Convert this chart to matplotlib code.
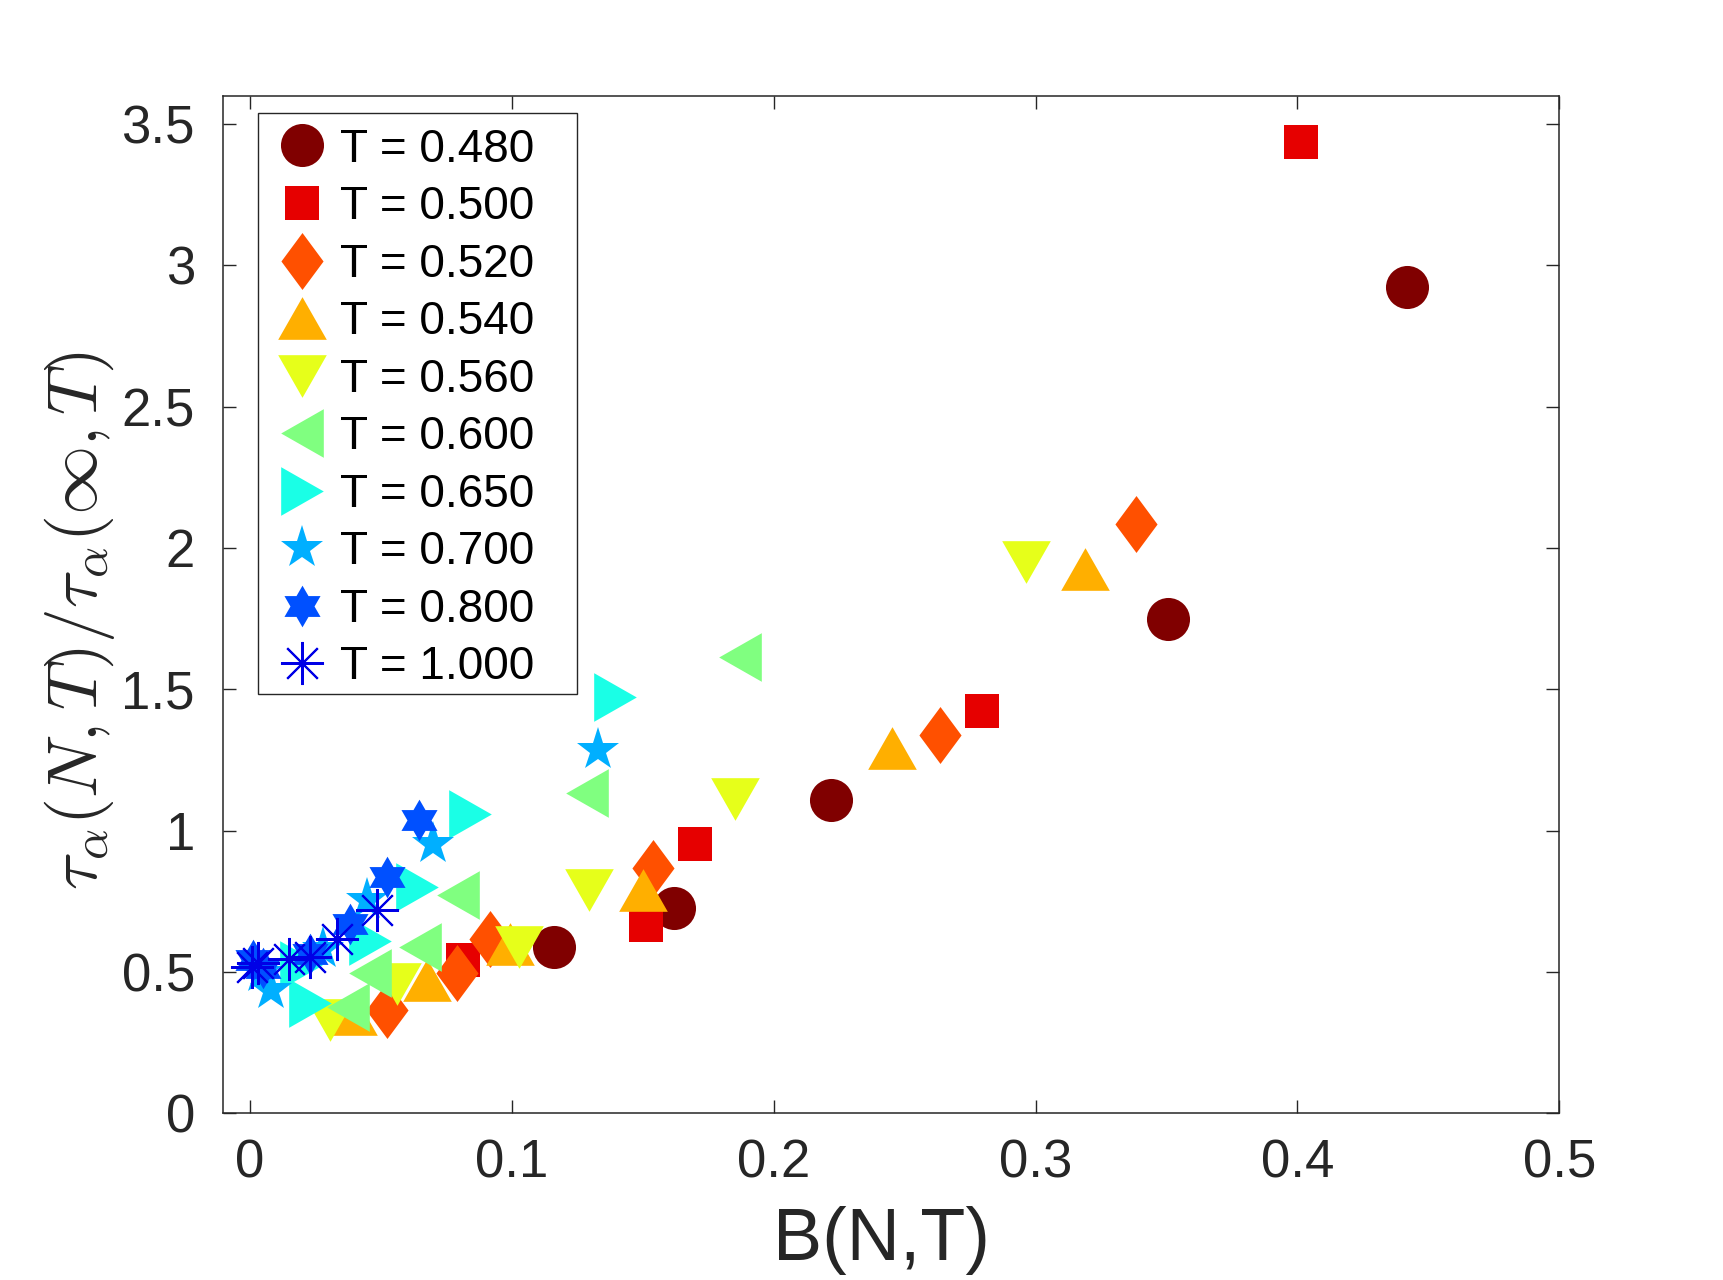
import numpy as np
import matplotlib
matplotlib.use("Agg")
import matplotlib.pyplot as plt
from matplotlib.path import Path
from matplotlib.patches import Rectangle

plt.rcParams['font.family'] = ['Liberation Sans', 'DejaVu Sans']
plt.rcParams['mathtext.fontset'] = 'cm'

# ---------------- data ----------------
labels = ["T = 0.480", "T = 0.500", "T = 0.520", "T = 0.540", "T = 0.560",
          "T = 0.600", "T = 0.650", "T = 0.700", "T = 0.800", "T = 1.000"]

x_480 = [0.1162, 0.1621, 0.2218, 0.3504, 0.4420]
y_480 = [0.589, 0.727, 1.107, 1.748, 2.924]

x_500 = [0.0815, 0.1512, 0.1698, 0.2794, 0.4015]
y_500 = [0.542, 0.665, 0.953, 1.422, 3.437]

x_520 = [0.0522, 0.0790, 0.0917, 0.1541, 0.2635, 0.3383]
y_520 = [0.365, 0.495, 0.618, 0.869, 1.340, 2.085]

x_540 = [0.0395, 0.0675, 0.0994, 0.1500, 0.2450, 0.3189]
y_540 = [0.353, 0.471, 0.600, 0.789, 1.293, 1.926]

x_560 = [0.0306, 0.0560, 0.1029, 0.1293, 0.1853, 0.2963]
y_560 = [0.330, 0.459, 0.589, 0.789, 1.113, 1.950]

x_600 = [0.0376, 0.0459, 0.0650, 0.0796, 0.1289, 0.1872]
y_600 = [0.377, 0.495, 0.589, 0.771, 1.133, 1.613]

x_650 = [0.0229, 0.0195, 0.0460, 0.0637, 0.0840, 0.1395]
y_650 = [0.389, 0.525, 0.610, 0.800, 1.060, 1.472]

x_700 = [0.0082, 0.0043, 0.0280, 0.0446, 0.0700, 0.1329]
y_700 = [0.436, 0.495, 0.580, 0.754, 0.954, 1.284]

x_800 = [0.0013, 0.0050, 0.0229, 0.0382, 0.0522, 0.0647]
y_800 = [0.542, 0.515, 0.565, 0.671, 0.836, 1.036]

x_1000 = [0.0006, 0.0030, 0.0150, 0.0229, 0.0331, 0.0484]
y_1000 = [0.518, 0.530, 0.545, 0.553, 0.618, 0.718]

colors = ['#800000', '#E60000', '#FF5000', '#FFAF00', '#E6FF1A',
          '#80FF80', '#1AFFE6', '#00AFFF', '#0050FF', '#0000E6']

# ---------------- markers ----------------
def poly(verts):
    verts = list(verts) + [verts[0]]
    codes = [Path.MOVETO] + [Path.LINETO] * (len(verts) - 2) + [Path.CLOSEPOLY]
    return Path(verts, codes)

h = 0.877
tri_up = poly([(0, h), (1, -h), (-1, -h)])
tri_down = poly([(0, -h), (1, h), (-1, h)])
tri_left = poly([(-h, 0), (h, 1), (h, -1)])
tri_right = poly([(h, 0), (-h, 1), (-h, -1)])
diamond = poly([(0, 1), (0.74, 0), (0, -1), (-0.74, 0)])
hv = []
for k in range(6):
    a_out = np.deg2rad(90 + 60 * k)
    a_in = np.deg2rad(120 + 60 * k)
    hv.append((np.cos(a_out), np.sin(a_out)))
    hv.append((np.cos(a_in) / np.sqrt(3), np.sin(a_in) / np.sqrt(3)))
hexagram = poly(hv)

markers = ['o', 's', diamond, tri_up, tri_down, tri_left, tri_right, '*', hexagram, (8, 2, 0)]
msizes = [31, 24.5, 41, 35, 35, 35, 35, 32.5, 30, 31]

xs = [x_480, x_500, x_520, x_540, x_560, x_600, x_650, x_700, x_800, x_1000]
ys = [y_480, y_500, y_520, y_540, y_560, y_600, y_650, y_700, y_800, y_1000]

# ---------------- figure ----------------
W, H = 1723, 1280
fig = plt.figure(figsize=(W / 100, H / 100), dpi=100)
ax = fig.add_axes([222.7 / W, 1 - 1113.3 / H, (1559.3 - 222.7) / W, (1113.3 - 95.7) / H])

handles = []
for i in range(len(xs)):
    if i == 9:
        ln, = ax.plot(xs[i], ys[i], linestyle='none', marker=markers[i], ms=msizes[i],
                      mec=colors[i], mew=1.5, label=labels[i])
    else:
        ln, = ax.plot(xs[i], ys[i], linestyle='none', marker=markers[i], ms=msizes[i],
                      mfc=colors[i], mec=colors[i], mew=0, label=labels[i])
    handles.append(ln)

ax.set_xlim(-0.0104, 0.5)
ax.set_ylim(0, 3.6)
xt = [0, 0.1, 0.2, 0.3, 0.4, 0.5]
yt = [0, 0.5, 1, 1.5, 2, 2.5, 3, 3.5]
ax.set_xticks(xt)
ax.set_xticklabels(['0', '0.1', '0.2', '0.3', '0.4', '0.5'])
ax.set_yticks(yt)
ax.set_yticklabels(['0', '0.5', '1', '1.5', '2', '2.5', '3', '3.5'])

axcol = '#262626'
for s in ax.spines.values():
    s.set_color(axcol)
    s.set_linewidth(1.1)
ax.tick_params(direction='in', length=9.5, width=1.0, color=axcol, labelcolor=axcol,
               labelsize=38, top=True, right=True)
ax.tick_params(axis='x', pad=18)
ax.tick_params(axis='y', pad=20)

fig.text(881 / W, 20 / H, 'B(N,T)', fontsize=53, color=axcol, ha='center', va='baseline')
fig.text(80 / W, 1 - 621 / H, r'$\tau_\alpha(N,T)/\tau_\alpha(\infty,T)$', fontsize=50,
         color=axcol, rotation=90, ha='center', va='center')

# legend
leg = ax.legend(handles=handles, loc='upper left',
                bbox_to_anchor=((258 - 222.7) / 1336.6, (1113.3 - 111) / 1017.6),
                borderaxespad=0, borderpad=0.36, labelspacing=0.295,
                handlelength=1.2, handletextpad=0.23, fontsize=33, frameon=False)
ax.add_patch(Rectangle(((258 - 222.7) / 1336.6, (1113.3 - 694) / 1017.6),
                       (577 - 258) / 1336.6, (694 - 113) / 1017.6,
                       transform=ax.transAxes, fill=True, facecolor='white',
                       edgecolor=axcol, linewidth=1.0, zorder=4))
leg.set_zorder(5)

fig.savefig('out.png', dpi=100)
